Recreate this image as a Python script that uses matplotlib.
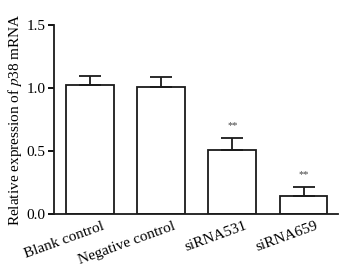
import matplotlib.pyplot as plt
import numpy as np

groups = ['Blank control', 'Negative control', 'siRNA531', 'siRNA659']
values = [1.02, 1.01, 0.51, 0.14]
errors = [0.075, 0.08, 0.09, 0.075]
marks = ['', '', '**', '**']

plt.rcParams['font.family'] = 'Liberation Serif'
plt.rcParams['mathtext.fontset'] = 'stix'

fig = plt.figure(figsize=(3.53, 2.71), dpi=100)
ax = fig.add_axes([0.153, 0.21, 0.804, 0.698])

x = np.arange(len(groups))
ax.bar(x, values, width=0.67, color='white', edgecolor='#1a1a1a', linewidth=1.3)
ax.errorbar(x, values, yerr=[np.zeros(len(errors)), errors], fmt='none',
            ecolor='#1a1a1a', elinewidth=1.3, capsize=8, capthick=1.3)
for xi, v, e, m in zip(x, values, errors, marks):
    if m:
        ax.text(xi, v + e + 0.1, m, ha='center', va='center', fontsize=7.5, color='#444444')

ax.set_xlim(-0.5, 3.48)
ax.set_ylim(0, 1.5)
ax.set_yticks([0, 0.5, 1.0, 1.5])
ax.set_yticklabels(['0.0', '0.5', '1.0', '1.5'], fontsize=11)
# labels sit a bit right of the bar centres in the original
ax.set_xticks(x + 0.17)
ax.set_xticklabels(groups, rotation=20, ha='right', rotation_mode='anchor', fontsize=11)
ax.tick_params(axis='x', length=0, pad=4)
ax.tick_params(axis='y', length=4, width=1.3, pad=2)
ax.set_ylabel('Relative expression of $p$38 mRNA', fontsize=11, labelpad=2)
for s in ['top', 'right']:
    ax.spines[s].set_visible(False)
for s in ['left', 'bottom']:
    ax.spines[s].set_linewidth(1.3)
    ax.spines[s].set_color('#1a1a1a')

fig.savefig('out.png', dpi=100)
